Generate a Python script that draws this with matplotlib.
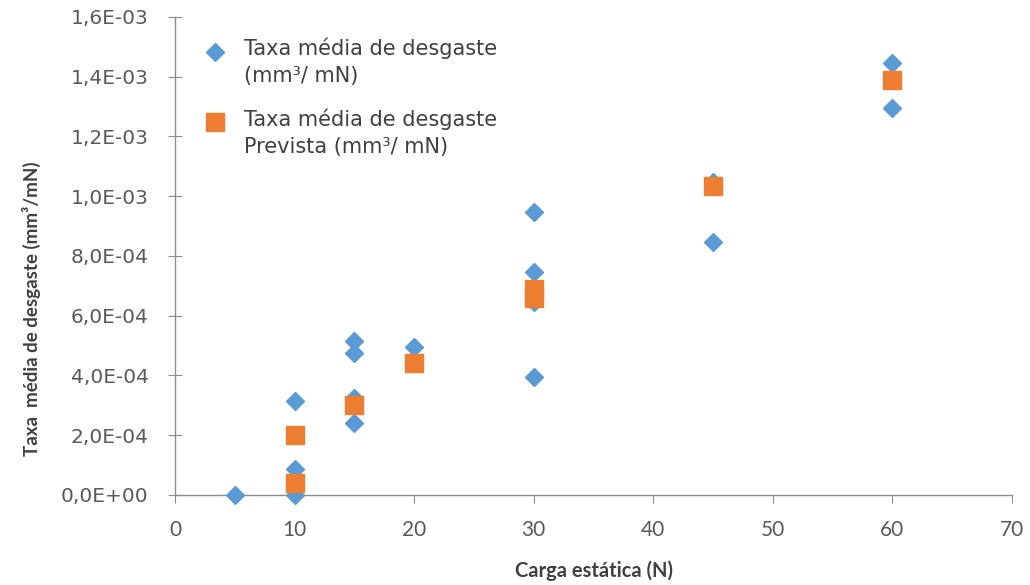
import numpy as np
import matplotlib.pyplot as plt
from matplotlib.ticker import FuncFormatter, MultipleLocator

# measured wear rate (blue diamonds)
carga_med = [5, 10, 10, 10, 15, 15, 15, 15, 20, 30, 30, 30, 30, 45, 45, 60, 60]
taxa_med = [0.0, 3.14e-4, 0.87e-4, 0.0, 5.15e-4, 4.75e-4, 3.24e-4, 2.41e-4, 4.95e-4,
            9.46e-4, 7.46e-4, 6.45e-4, 3.95e-4, 1.047e-3, 8.46e-4, 1.445e-3, 1.294e-3]

# predicted wear rate (orange squares)
carga_prev = [10, 10, 15, 20, 30, 30, 45, 60]
taxa_prev = [2.0e-4, 0.4e-4, 3.0e-4, 4.41e-4, 6.9e-4, 6.6e-4, 1.033e-3, 1.39e-3]

lab_med = "Taxa média de desgaste\n(mm³/ mN)"
lab_prev = "Taxa média de desgaste\nPrevista (mm³/ mN)"

fig = plt.figure(figsize=(10.3, 5.85), dpi=100)
ax = fig.add_axes([0.170, 0.154, 0.8125, 0.817])

ax.plot(carga_med, taxa_med, linestyle='none', marker='D', ms=9.3,
        color='#5B9BD5', mec='#5B9BD5', label=lab_med, clip_on=False, zorder=3)
ax.plot(carga_prev, taxa_prev, linestyle='none', marker='s', ms=12.5,
        color='#ED7D31', mec='#ED7D31', label=lab_prev, clip_on=False, zorder=4)

ax.set_xlim(0, 70)
ax.set_ylim(0, 1.6e-3)
ax.xaxis.set_major_locator(MultipleLocator(10))
ax.yaxis.set_major_locator(MultipleLocator(2e-4))
ax.yaxis.set_major_formatter(FuncFormatter(lambda v, p: f"{v:.1E}".replace('.', ',')))

for s in ['top', 'right']:
    ax.spines[s].set_visible(False)
for s in ['left', 'bottom']:
    ax.spines[s].set_color('#8c8c8c')
    ax.spines[s].set_linewidth(1.0)

ax.tick_params(axis='y', direction='inout', length=10, color='#8c8c8c',
               labelcolor='#595959', labelsize=14.5, pad=14)
ax.tick_params(axis='x', direction='out', length=6, color='#8c8c8c',
               labelcolor='#595959', labelsize=15, pad=12)
for t in ax.get_xticklabels():
    t.set_family('Lato')

ax.set_xlabel('Carga estática (N)', fontsize=14.5, fontweight='bold',
              family='Lato', color='#404040', labelpad=15)
ax.set_ylabel('Taxa  média de desgaste (mm³/mN)', fontsize=13.5, fontweight='bold',
              family='Lato', color='#404040')
ax.yaxis.set_label_coords(-0.160, 0.39)

leg = ax.legend(loc='upper left', bbox_to_anchor=(0.184, 0.95), bbox_transform=fig.transFigure,
                frameon=False, fontsize=15, labelcolor='#404040', handletextpad=0.6,
                handlelength=1.6, labelspacing=1.05, borderaxespad=0)
for t in leg.get_texts():
    t.set_linespacing(1.45)
# markers sit next to the first text line, not in the middle of the block
for h in leg.legend_handles:
    h.set_ydata(np.asarray(h.get_ydata()) + 8)

fig.savefig('out.png', dpi=100)
